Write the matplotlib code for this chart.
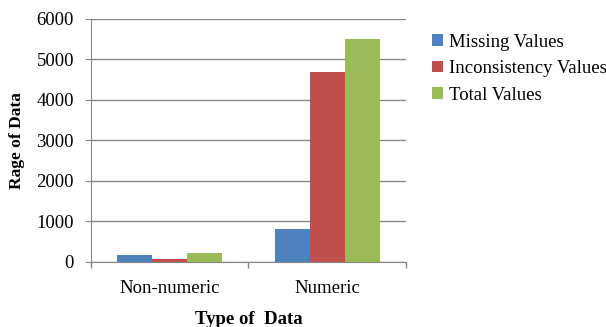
import numpy as np
import matplotlib.pyplot as plt

plt.rcParams['font.family'] = ['Liberation Serif', 'DejaVu Serif']

categories = ['Non-numeric', 'Numeric']
missing_values = [165, 815]
inconsistency_values = [65, 4690]
total_values = [215, 5515]
series_names = ['Missing Values', 'Inconsistency Values', 'Total Values']
colors = ['#4F81BD', '#C0504D', '#9BBB59']
y_ticks = [0, 1000, 2000, 3000, 4000, 5000, 6000]

fig = plt.figure(figsize=(6.06, 3.27), dpi=100)
ax = fig.add_axes([0.1497, 0.1988, 0.5203, 0.7432])

x = np.arange(len(categories))
w = 0.222
for i, (vals, name, c) in enumerate(zip([missing_values, inconsistency_values, total_values],
                                        series_names, colors)):
    ax.bar(x + (i - 1) * w, vals, width=w, color=c, label=name, zorder=3)

ax.set_xlim(-0.5, 1.5)
ax.set_ylim(0, 6000)
ax.set_yticks(y_ticks)
ax.set_xticks(x)
ax.set_xticklabels(categories, fontsize=13.5)
ax.set_xticks([-0.5, 0.5, 1.5], minor=True)
ax.tick_params(axis='x', which='major', length=0, pad=13)
ax.tick_params(axis='x', which='minor', length=4, color='#868686', width=1)
ax.tick_params(axis='y', length=4, color='#868686', labelsize=13.5, pad=8)

ax.grid(axis='y', color='#868686', linewidth=1, zorder=0)
for s in ['top', 'right']:
    ax.spines[s].set_visible(False)
for s in ['left', 'bottom']:
    ax.spines[s].set_color('#868686')

ax.set_ylabel('Rage of Data', fontsize=12.5, fontweight='bold', labelpad=8)
ax.set_xlabel('Type of  Data', fontsize=13.5, fontweight='bold', labelpad=10)

leg = ax.legend(loc='upper left', bbox_to_anchor=(1.06, 0.97), frameon=False,
                fontsize=13.5, handlelength=0.55, handleheight=0.55,
                handletextpad=0.35, labelspacing=0.5, borderaxespad=0)

fig.savefig('out.png', dpi=100)
